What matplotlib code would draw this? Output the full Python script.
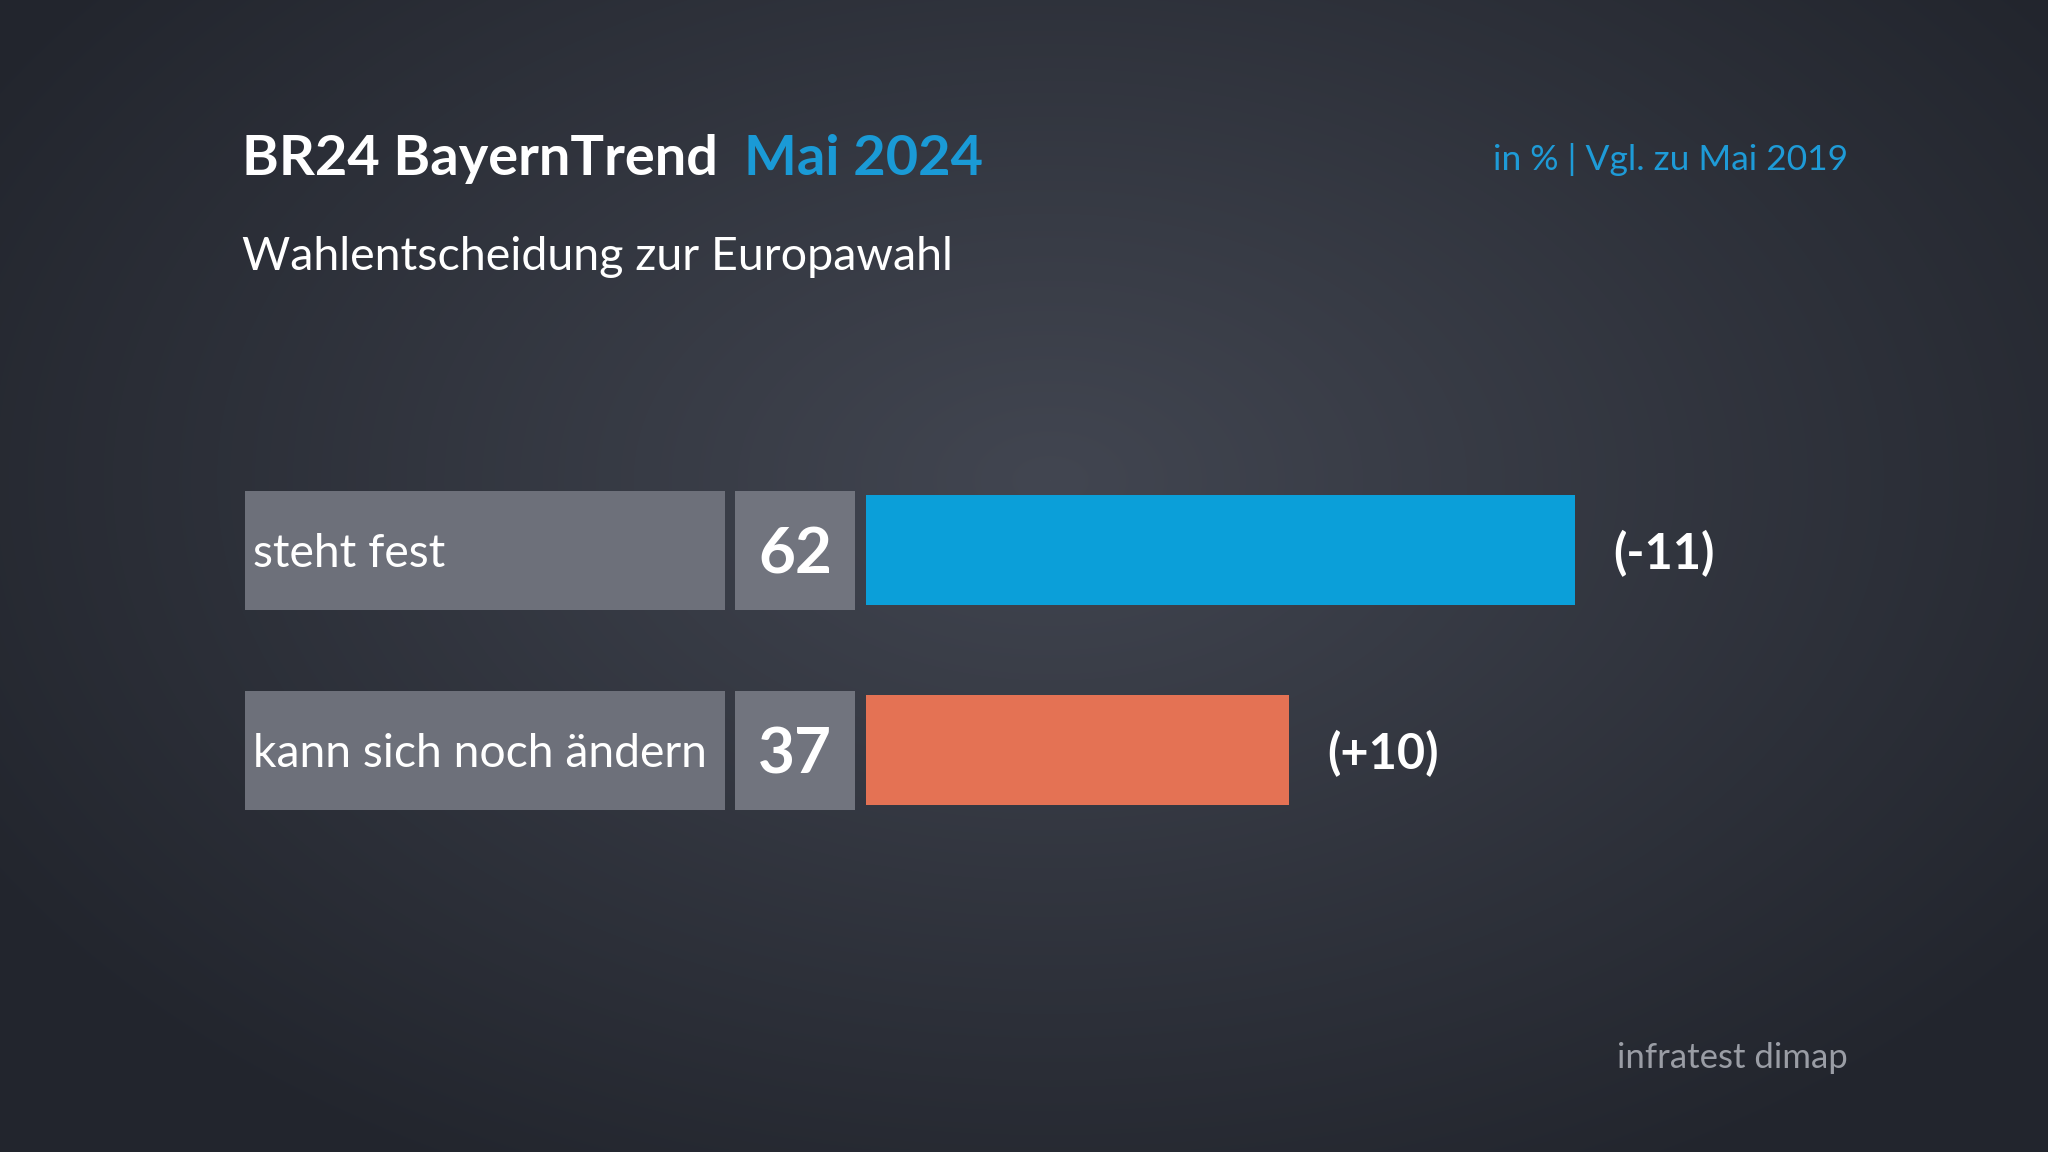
import numpy as np
from matplotlib import pyplot as plt

# Data
categories = ["steht fest", "kann sich noch ändern"]
values = [62, 37]
changes = ["(-11)", "(+10)"]
bar_colors = ["#0b9fd9", "#e47254"]

TITLE = "BR24 BayernTrend"
TITLE_DATE = "Mai 2024"
SUBTITLE = "Wahlentscheidung zur Europawahl"
NOTE = "in % | Vgl. zu Mai 2019"
SOURCE = "infratest dimap"

W, H = 2048, 1152
DPI = 100
FONT = "Lato"

fig = plt.figure(figsize=(W / DPI, H / DPI), dpi=DPI)

# Background: dark radial gradient, lighter towards the middle
bg = fig.add_axes([0, 0, 1, 1], zorder=-10)
yy, xx = np.mgrid[0:H, 0:W]
r = np.sqrt(((xx - 1050) / 1250) ** 2 + ((yy - 480) / 800) ** 2)
t = np.clip(r, 0, 1)[..., None]
center = np.array([0x42, 0x46, 0x51]) / 255
edge = np.array([0x22, 0x25, 0x2d]) / 255
bg.imshow(center * (1 - t) + edge * t, aspect="auto", extent=[0, W, H, 0])
bg.set_axis_off()


def fx(px):
    return px / W


def fy(py):
    return 1 - py / H


# Header
fig.text(fx(242), fy(175), TITLE, color="white", fontsize=40.3, fontweight="bold",
         family=FONT, va="baseline")
fig.text(fx(744), fy(175), TITLE_DATE, color="#1a9ad6", fontsize=40.3, fontweight="bold",
         family=FONT, va="baseline")
fig.text(fx(242), fy(270), SUBTITLE, color="white", fontsize=33.6, family=FONT, va="baseline")
fig.text(fx(1848), fy(170), NOTE, color="#1e9bd7", fontsize=25.5, family=FONT,
         va="baseline", ha="right")
fig.text(fx(1848), fy(1068), SOURCE, color="#9a9da5", fontsize=25, family=FONT,
         va="baseline", ha="right")

# Bars: 1 % = 11.44 px, rows 200 px apart
PX_PER_UNIT = 11.44
ax_left, ax_top = 866, 450
ax_w, ax_h = 100 * PX_PER_UNIT, 400
ax = fig.add_axes([fx(ax_left), fy(ax_top + ax_h), ax_w / W, ax_h / H])
ax.set_xlim(0, 100)
ax.set_ylim(1.5, -0.5)
ax.set_axis_off()

y = np.arange(len(categories))

# label and value boxes to the left of the bars
ax.barh(y, 42.0, left=-54.3, height=0.595, color="#6d707a", clip_on=False)
ax.barh(y, 10.5, left=-11.45, height=0.595, color="#71747e", clip_on=False)
ax.barh(y, values, height=0.55, color=bar_colors)

for i, (cat, val, chg) in enumerate(zip(categories, values, changes)):
    ax.text(-53.6, i, cat, color="white", fontsize=33.3, family=FONT,
            va="center_baseline", ha="left")
    ax.text(-6.2, i, str(val), color="white", fontsize=46, fontweight="bold",
            family=FONT, va="center_baseline", ha="center")
    ax.text(val + 3.3, i, chg, color="white", fontsize=35, fontweight="bold",
            family=FONT, va="center_baseline", ha="left")

fig.savefig("out.png", dpi=DPI)
